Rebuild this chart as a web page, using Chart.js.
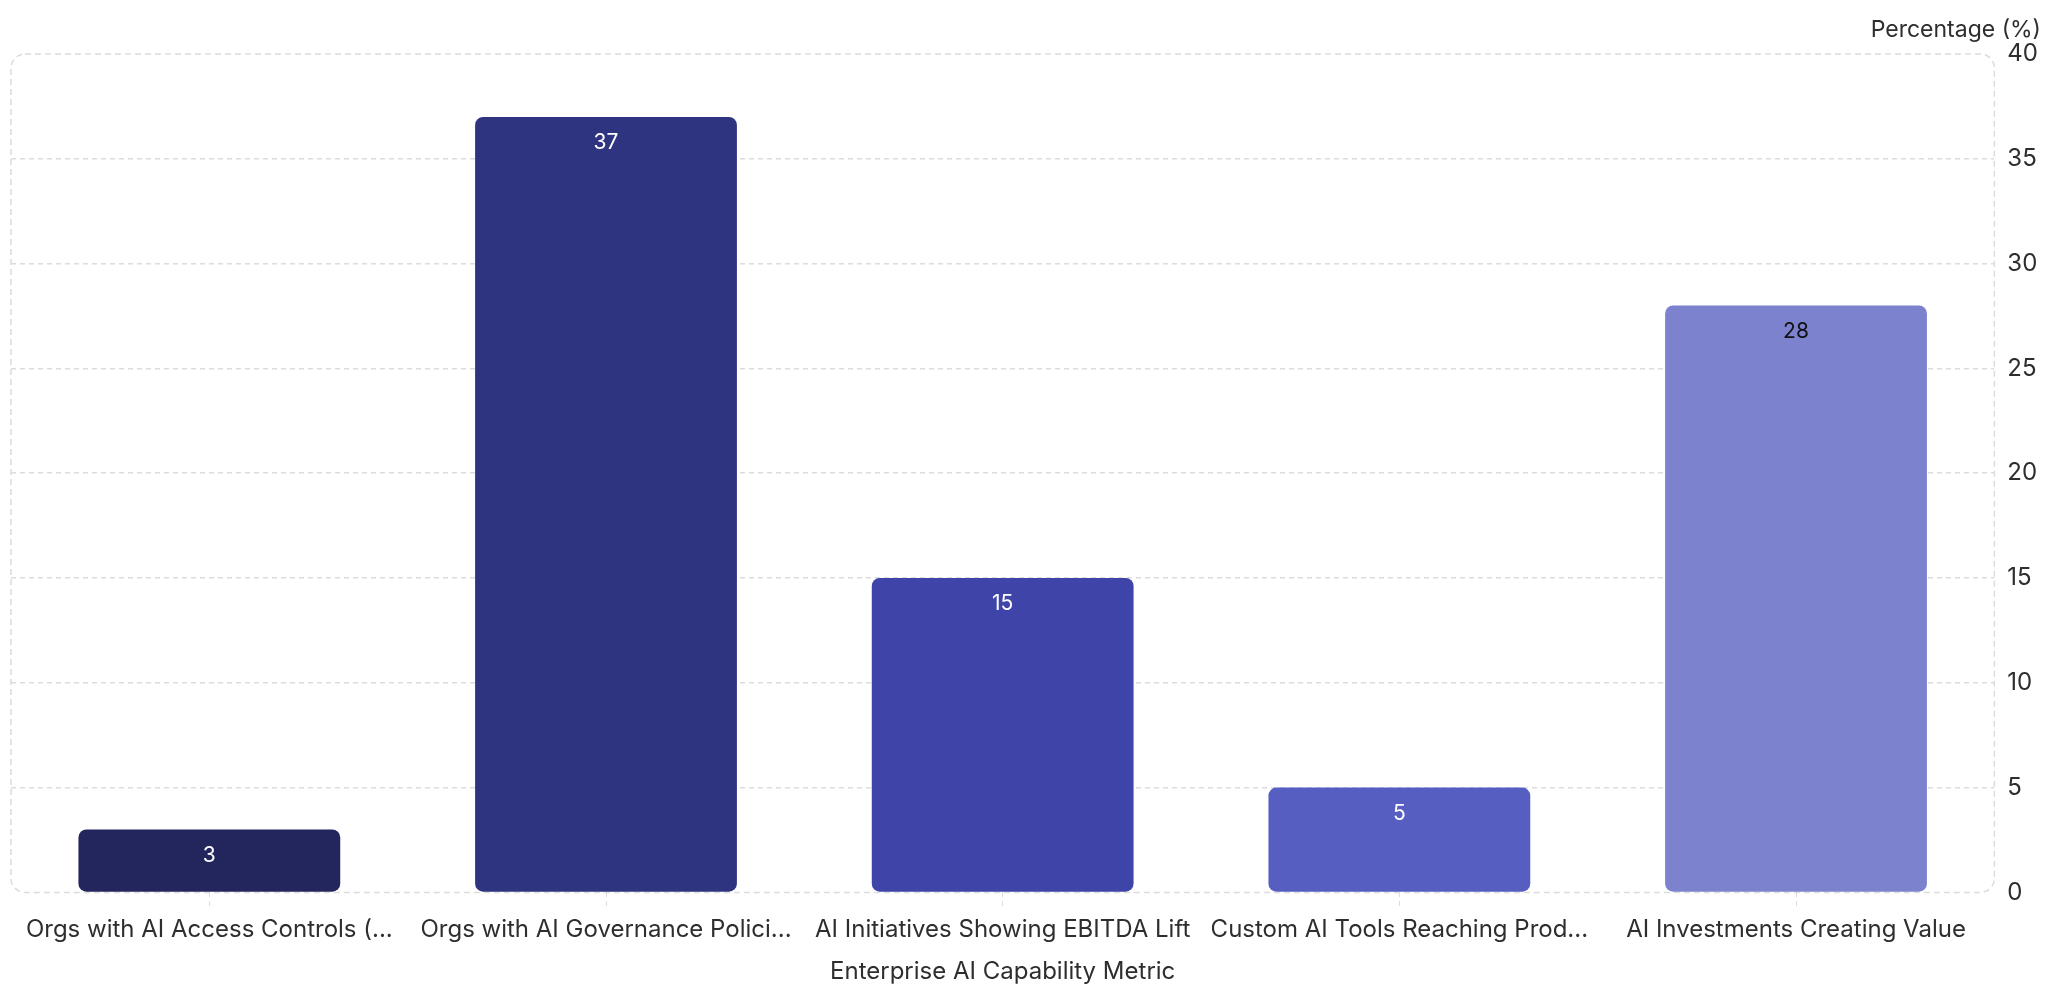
<!DOCTYPE html>
<html>
<head>
<meta charset="utf-8">
<title>Enterprise AI Capability Metric</title>
<script src="https://cdn.jsdelivr.net/npm/chart.js@4/dist/chart.umd.min.js"></script>
<style>
    html, body { margin: 0; padding: 0; background: #fff; }
    #wrap { width: 2071px; height: 988px; }
</style>
</head>
<body>
<div id="wrap"><canvas id="metricChart" width="2071" height="988"></canvas></div>
<script>
// Metric names as shown under the bars
const metricLabels = [
    'Orgs with AI Access Controls (...',
    'Orgs with AI Governance Polici...',
    'AI Initiatives Showing EBITDA Lift',
    'Custom AI Tools Reaching Prod...',
    'AI Investments Creating Value'
];
const percentValues = [3, 37, 15, 5, 28];
const barColors = ['#23265c', '#2e3480', '#3f45a8', '#565ec2', '#7c82ce'];
const valueLabelColors = ['#ffffff', '#ffffff', '#ffffff', '#ffffff', '#111111'];
const yTicks = [0, 5, 10, 15, 20, 25, 30, 35, 40];

const gridGrey = '#dcdcdc';
const textGrey = '#2e2e2e';

// Dashed rounded frame around the plot area
const roundedFrame = {
    id: 'roundedFrame',
    beforeDatasetsDraw(chart) {
        const { ctx, chartArea } = chart;
        ctx.save();
        ctx.strokeStyle = gridGrey;
        ctx.lineWidth = 1.5;
        ctx.setLineDash([6, 4]);
        ctx.beginPath();
        ctx.roundRect(chartArea.left, chartArea.top, chartArea.right - chartArea.left, chartArea.bottom - chartArea.top, 14);
        ctx.stroke();
        ctx.restore();
    }
};

// Value printed near the top of each bar, plus the y axis caption above the scale
const barValues = {
    id: 'barValues',
    afterDraw(chart) {
        const { ctx } = chart;
        const meta = chart.getDatasetMeta(0);
        ctx.save();
        ctx.font = '21px Inter';
        ctx.textAlign = 'center';
        ctx.textBaseline = 'middle';
        meta.data.forEach((bar, i) => {
            ctx.fillStyle = valueLabelColors[i];
            ctx.fillText(String(percentValues[i]), bar.x, bar.y + 26);
        });

        ctx.font = '23px Inter';
        ctx.fillStyle = textGrey;
        ctx.textAlign = 'right';
        ctx.fillText('Percentage (%)', chart.width - 30, 30);
        ctx.restore();
    }
};

document.addEventListener('DOMContentLoaded', function() {
    const ctx = document.getElementById('metricChart').getContext('2d');
    const metricChart = new Chart(ctx, {
        type: 'bar',
        data: {
            labels: metricLabels,
            datasets: [{
                label: 'Percentage (%)',
                data: percentValues,
                backgroundColor: barColors,
                borderRadius: 8,
                borderSkipped: false,
                barPercentage: 0.66,
                categoryPercentage: 1
            }]
        },
        options: {
            responsive: false,
            animation: false,
            layout: {
                padding: { left: 11, right: 20, top: 54, bottom: 2 }
            },
            plugins: {
                legend: { display: false },
                tooltip: { enabled: false }
            },
            scales: {
                x: {
                    border: { display: false },
                    grid: {
                        offset: false,
                        drawOnChartArea: false,
                        drawTicks: true,
                        tickLength: 16,
                        tickBorderDash: [5, 4],
                        tickColor: gridGrey
                    },
                    ticks: {
                        color: textGrey,
                        font: { family: 'Inter', size: 24 },
                        maxRotation: 0,
                        autoSkip: false,
                        padding: 7
                    },
                    title: {
                        display: true,
                        text: 'Enterprise AI Capability Metric',
                        color: textGrey,
                        font: { family: 'Inter', size: 24 },
                        padding: { top: 6, bottom: 0 }
                    }
                },
                y: {
                    position: 'right',
                    min: 0,
                    max: 40,
                    z: 1,
                    border: { display: false, dash: [5, 4] },
                    afterBuildTicks(scale) {
                        scale.ticks = yTicks.map(v => ({ value: v }));
                    },
                    grid: {
                        drawTicks: false,
                        lineWidth: 1.5,
                        borderDash: [5, 4],
                        color: c => (c.tick && (c.tick.value === 0 || c.tick.value === 40)) ? 'rgba(0,0,0,0)' : gridGrey
                    },
                    ticks: {
                        color: textGrey,
                        font: { family: 'Inter', size: 24 },
                        padding: 13
                    }
                }
            }
        },
        plugins: [roundedFrame, barValues]
    });
});
</script>
</body>
</html>
